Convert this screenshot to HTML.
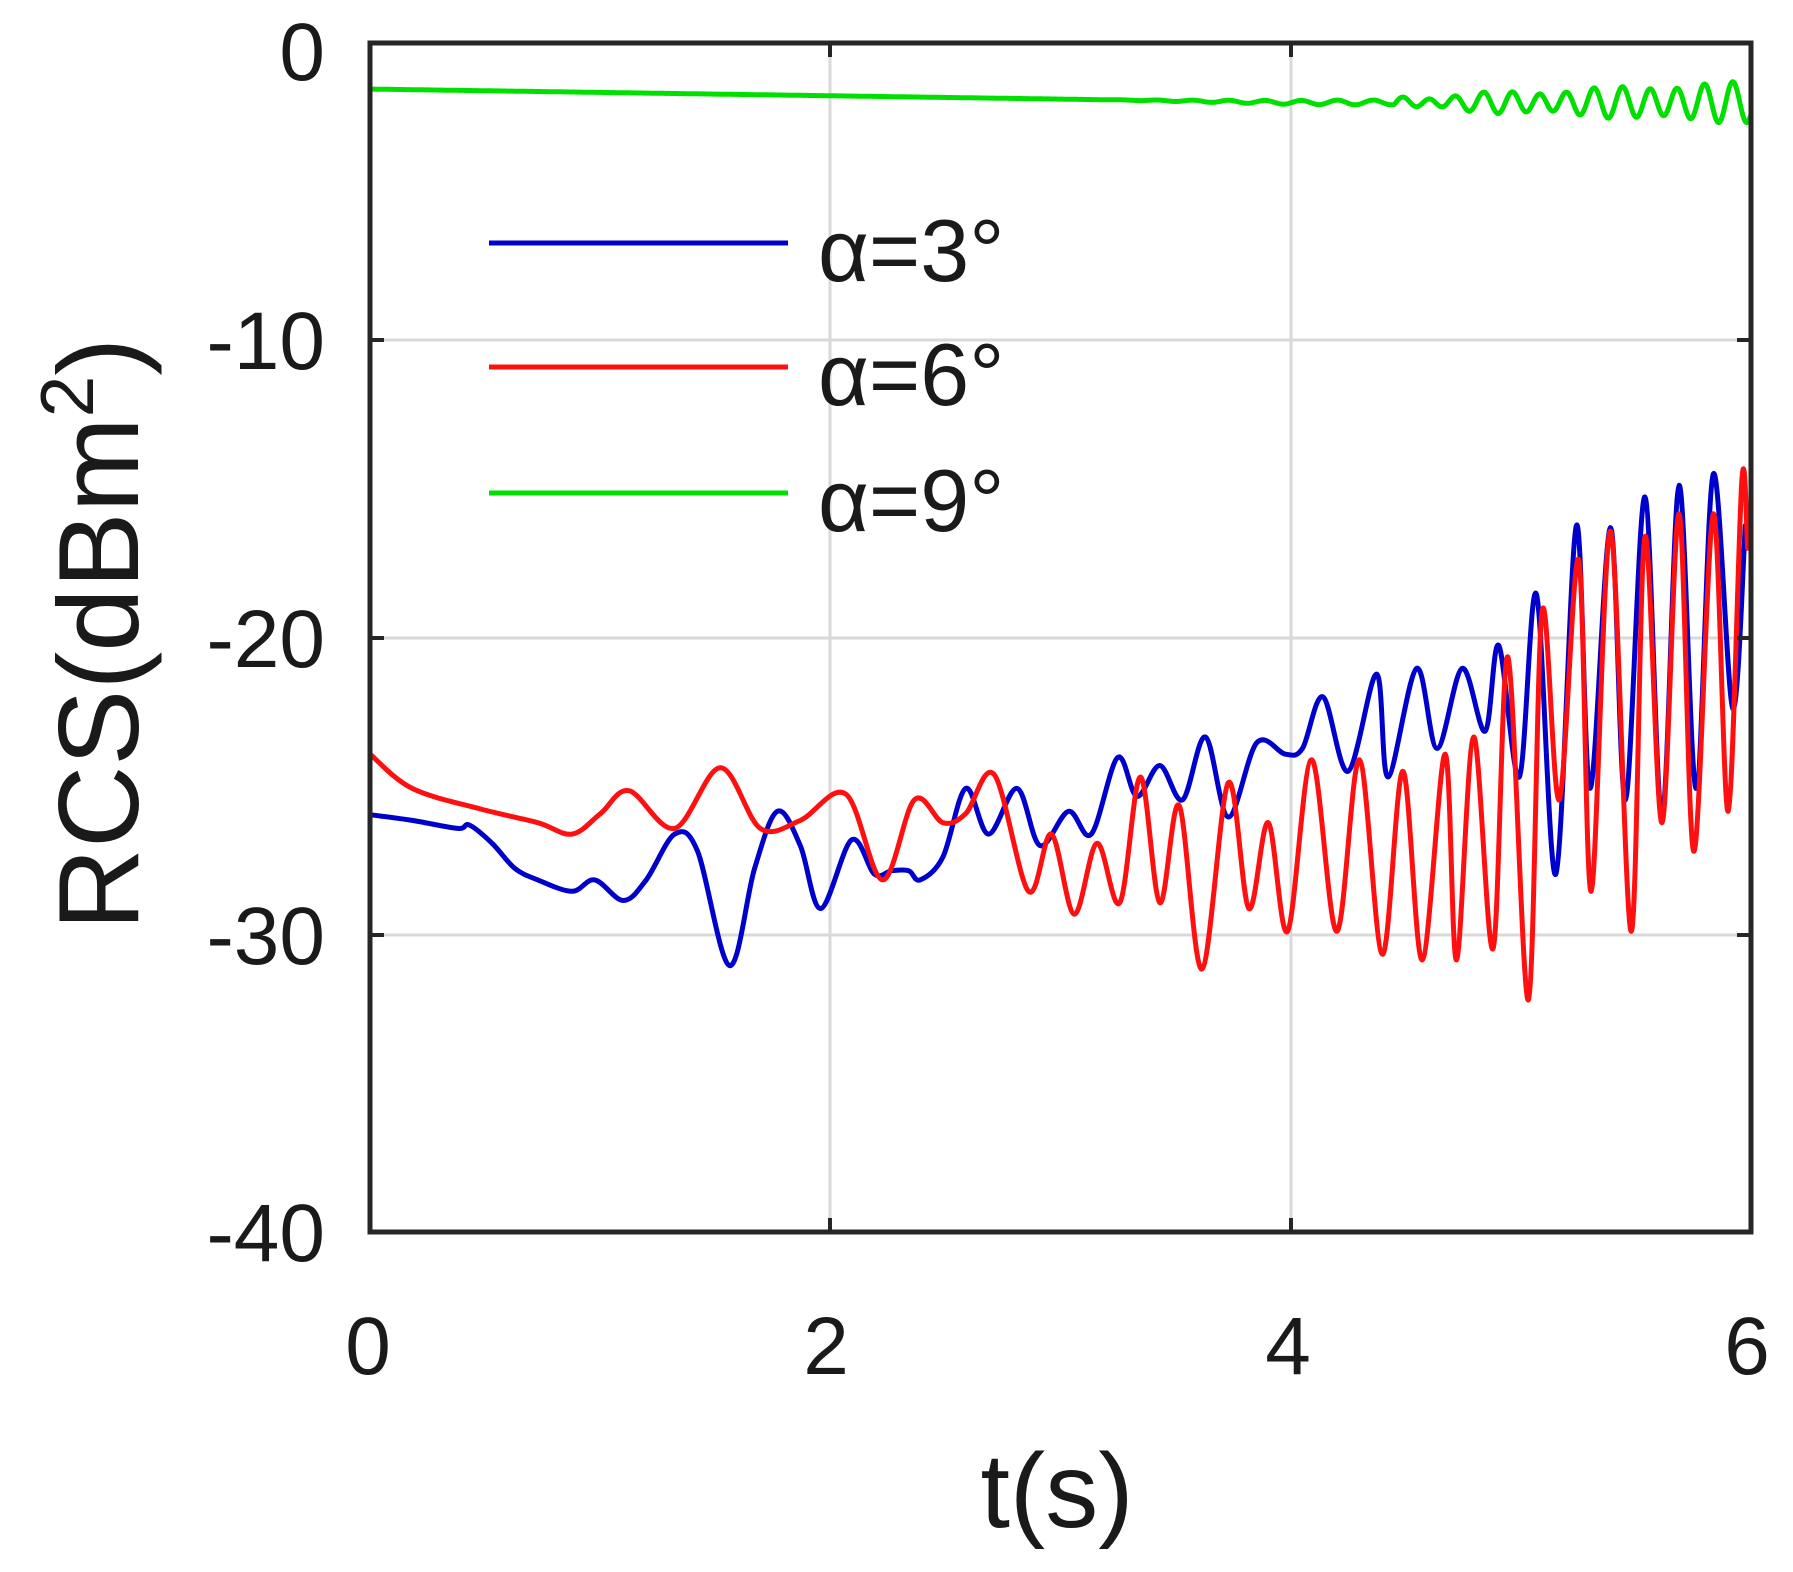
<!DOCTYPE html>
<html><head><meta charset="utf-8"><style>
html,body{margin:0;padding:0;background:#fff;}
svg{display:block;}
text{font-family:"Liberation Sans",Arial,sans-serif;fill:#1a1a1a;}
</style></head><body>
<svg id="s" width="1793" height="1572" viewBox="0 0 1793 1572" xmlns="http://www.w3.org/2000/svg">
<rect width="1793" height="1572" fill="#fff"/>
<g stroke="#d9d9d9" stroke-width="3">
<line x1="830" y1="43" x2="830" y2="1232"/>
<line x1="1291" y1="43" x2="1291" y2="1232"/>
<line x1="370" y1="340" x2="1751" y2="340"/>
<line x1="370" y1="638" x2="1751" y2="638"/>
<line x1="370" y1="935" x2="1751" y2="935"/>
</g>
<g id="series" fill="none" stroke-width="5" stroke-linejoin="round" stroke-linecap="round"></g>
<g stroke="#262626" stroke-width="4">
<line x1="830" y1="1232" x2="830" y2="1218"/><line x1="1291" y1="1232" x2="1291" y2="1218"/>
<line x1="830" y1="43" x2="830" y2="57"/><line x1="1291" y1="43" x2="1291" y2="57"/>
<line x1="370" y1="340" x2="384" y2="340"/><line x1="370" y1="638" x2="384" y2="638"/><line x1="370" y1="935" x2="384" y2="935"/>
<line x1="1751" y1="340" x2="1737" y2="340"/><line x1="1751" y1="638" x2="1737" y2="638"/><line x1="1751" y1="935" x2="1737" y2="935"/>
</g>
<rect x="370" y="43" width="1381" height="1189" fill="none" stroke="#262626" stroke-width="5"/>
<g stroke-width="5">
<line x1="489" y1="243" x2="788" y2="243" stroke="#0000cc"/>
<line x1="489" y1="367" x2="788" y2="367" stroke="#ff1010"/>
<line x1="489" y1="493" x2="788" y2="493" stroke="#00e000"/>
</g>
<g font-size="88">
<text x="818" y="281">α=3°</text>
<text x="818" y="405">α=6°</text>
<text x="818" y="531">α=9°</text>
</g>
<g font-size="82" text-anchor="end">
<text x="325" y="80">0</text>
<text x="325" y="369">-10</text>
<text x="325" y="667">-20</text>
<text x="325" y="964">-30</text>
<text x="325" y="1261">-40</text>
</g>
<g font-size="82" text-anchor="middle">
<text x="368" y="1374">0</text>
<text x="826" y="1374">2</text>
<text x="1288" y="1374">4</text>
<text x="1747" y="1374">6</text>
</g>
<text x="1057" y="1527" font-size="106" text-anchor="middle">t(s)</text>
<text transform="translate(138,634) rotate(-90)" font-size="114" text-anchor="middle">RCS(dBm<tspan dy="-45" font-size="75">2</tspan><tspan dy="45">)</tspan></text>
</svg>
<script>
function mx(d){return 370+(d-323)*(1381/1210);}
function my(d){return 43+(d-38)*(1189/1040);}
function cr(pts){
  var p=pts.map(function(a){return [mx(a[0]),my(a[1])];});
  var s="M"+p[0][0].toFixed(1)+","+p[0][1].toFixed(1);
  for(var i=0;i<p.length-1;i++){
    var p0=p[i-1]||p[i],p1=p[i],p2=p[i+1],p3=p[i+2]||p2;
    var c1=[p1[0]+(p2[0]-p0[0])/6,p1[1]+(p2[1]-p0[1])/6];
    var c2=[p2[0]-(p3[0]-p1[0])/6,p2[1]-(p3[1]-p1[1])/6];
    s+="C"+c1[0].toFixed(1)+","+c1[1].toFixed(1)+" "+c2[0].toFixed(1)+","+c2[1].toFixed(1)+" "+p2[0].toFixed(1)+","+p2[1].toFixed(1);
  }
  return s;
}
var blue=[[323,713],[360,718],[400,725],[410,722],[430,738],[450,760],[470,770],[500,780],[520,770],[545,788],[565,770],[590,730],[610,745],[638,845],[660,760],[680,710],[700,740],[718,795],[745,735],[765,765],[780,762],[795,762],[805,770],[825,750],[845,690],[865,730],[890,690],[910,740],[935,710],[955,730],[978,663],[995,697],[1015,670],[1035,700],[1055,645],[1075,715],[1100,650],[1125,660],[1140,655],[1158,610],[1180,675],[1205,590],[1215,680],[1240,585],[1258,655],[1280,585],[1300,640],[1312,565],[1330,680],[1345,520],[1362,765],[1380,460],[1392,690],[1410,462],[1423,700],[1440,435],[1455,715],[1470,425],[1485,690],[1500,415],[1517,620],[1528,460]];
var red=[[323,660],[360,690],[420,708],[470,720],[500,730],[525,712],[550,692],[590,725],[630,672],[665,725],[700,718],[740,695],[772,770],[800,700],[825,720],[845,712],[870,678],[900,780],[920,730],[940,800],[960,738],[980,790],[998,680],[1015,790],[1032,705],[1052,848],[1075,685],[1093,795],[1110,720],[1127,815],[1148,665],[1170,815],[1190,665],[1210,835],[1228,675],[1245,840],[1265,660],[1275,840],[1290,645],[1307,830],[1320,575],[1338,875],[1350,535],[1365,700],[1382,490],[1393,780],[1410,465],[1428,815],[1440,470],[1455,720],[1470,450],[1483,745],[1500,450],[1513,710],[1525,420],[1530,480]];
var g="";
for(var i=0;i<=1200;i++){
  var t=i/200;
  var v=-1.55-0.45*Math.min(t/4,1);
  if(t>3.2)v+= -0.08*Math.min(t-3.2,1)*Math.sin(t*40);
  if(t>4.45){var a=0.15+0.5*(t-4.45)/1.55;v+=a*Math.sin((t-4.45)*2*Math.PI/0.12);}
  var x=370+t*1381/6, y=43-v*1189/40;
  g+=(i?"L":"M")+x.toFixed(1)+","+y.toFixed(1);
}
var G=document.getElementById("series");
G.innerHTML='<path d="'+g+'" stroke="#00e000"/><path d="'+cr(blue)+'" stroke="#0000cc"/><path d="'+cr(red)+'" stroke="#ff1010"/>';
</script>
</body></html>
